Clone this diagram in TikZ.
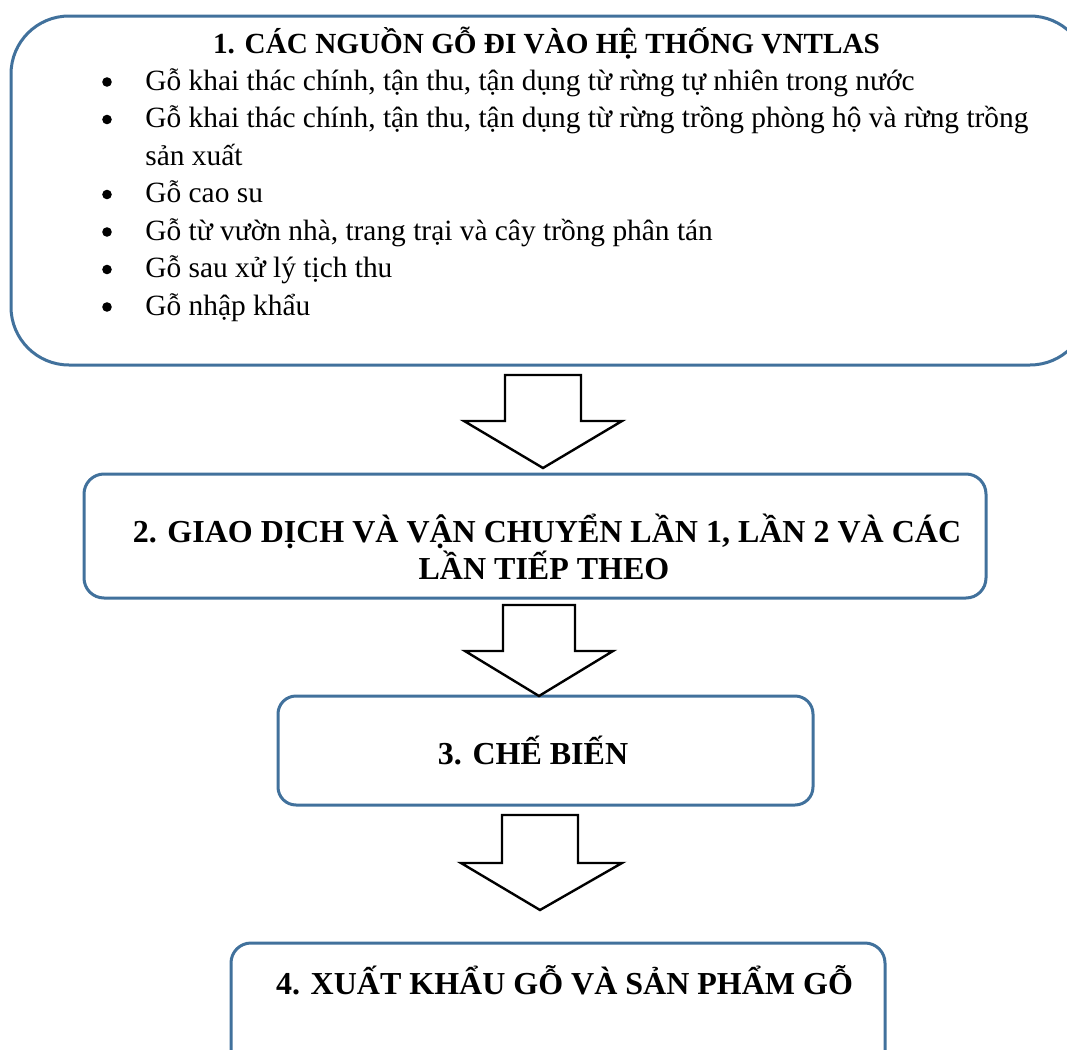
\documentclass[tikz,border=0pt]{standalone}
\usepackage{fontspec}
\setmainfont{Liberation Serif}
\begin{document}
\begin{tikzpicture}[x=0.5pt,y=-0.5pt,
  box/.style={draw=boxblue,line width=1.5pt,fill=white,rectangle,inner sep=0pt},
  blockarrow/.style={draw=black,line width=1.2pt,fill=white,line join=miter},
  body/.style={anchor=base west,inner sep=0pt,font=\fontsize{14.7pt}{17pt}\selectfont},
  title/.style={anchor=base,inner sep=0pt,font=\fontsize{14.6pt}{17pt}\selectfont\bfseries},
  head/.style={anchor=base,inner sep=0pt,font=\fontsize{16pt}{19pt}\selectfont\bfseries},
]
\definecolor{boxblue}{HTML}{41719C}
\useasboundingbox (0,0) rectangle (1067,1050);

% stage boxes
\node[box,rounded corners=29pt,minimum width=538.5pt,minimum height=174.5pt] (s1) at (549.5,190.5) {};
\node[box,rounded corners=10pt,minimum width=451pt,minimum height=62pt] (s2) at (535,536) {};
\node[box,rounded corners=9pt,minimum width=267.5pt,minimum height=54.5pt] (s3) at (545.5,750.5) {};
\node[box,rounded corners=10pt,minimum width=327pt,minimum height=70pt] (s4) at (558,1013) {};

% block arrows between the stages
\draw[blockarrow] (505,375) -- (581,375) -- (581,421) -- (622,421) -- (543,468)
  -- (464,421) -- (505,421) -- cycle;
\draw[blockarrow] (503,605) -- (575,605) -- (575,651) -- (613,651) -- (539,696)
  -- (465,651) -- (503,651) -- cycle;
\draw[blockarrow] (502,815) -- (578,815) -- (578,863) -- (622,863) -- (540,910)
  -- (461,863) -- (502,863) -- cycle;

% stage 1 text
\node[title] (t1) at (546.5,53) {1. CÁC NGUỒN GỖ ĐI VÀO HỆ THỐNG VNTLAS};
\node[body] (b1) at (145,90) {Gỗ khai thác chính, tận thu, tận dụng từ rừng tự nhiên trong nước};
\node[body] (b2) at (145,127.5) {Gỗ khai thác chính, tận thu, tận dụng từ rừng trồng phòng hộ và rừng trồng};
\node[body] (b2b) at (145,165) {sản xuất};
\node[body] (b3) at (145,202.5) {Gỗ cao su};
\node[body] (b4) at (145,240) {Gỗ từ vườn nhà, trang trại và cây trồng phân tán};
\node[body] (b5) at (145,277.5) {Gỗ sau xử lý tịch thu};
\node[body] (b6) at (145,315) {Gỗ nhập khẩu};
\foreach \yy in {90,127.5,202.5,240,277.5,315}
  \fill (107,\yy-8) circle (2.4pt);

% stages 2-4 text
\node[head] (t2a) at (547,542) {2. GIAO DỊCH VÀ VẬN CHUYỂN LẦN 1, LẦN 2 VÀ CÁC};
\node[head] (t2b) at (544,579) {LẦN TIẾP THEO};
\node[head] (t3) at (533,764) {3. CHẾ BIẾN};
\node[head] (t4) at (564.5,994) {4. XUẤT KHẨU GỖ VÀ SẢN PHẨM GỖ};
\end{tikzpicture}
\end{document}
